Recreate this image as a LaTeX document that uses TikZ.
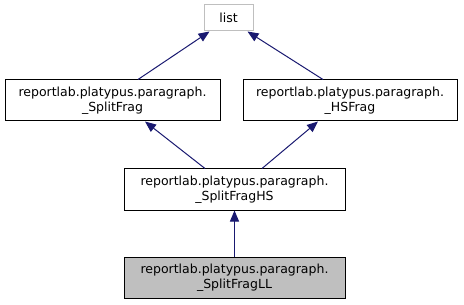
\documentclass[tikz,border=0pt]{standalone}
\usepackage{fontspec}
\setmainfont{DejaVu Sans}
\usetikzlibrary{arrows.meta}
\definecolor{edgeblue}{HTML}{191970}
\definecolor{nodegray}{HTML}{BFBFBF}
\tikzset{
  label font/.style={font=\fontsize{12.5pt}{15pt}\selectfont},
  cls/.style={draw=black, line width=1pt, fill=white, minimum width=#1, minimum height=41pt,
    align=center, inner sep=0pt, label font},
  cls/.default=215pt,
  inherit/.style={draw=edgeblue, line width=1pt, {Triangle[length=11pt,width=9pt]}-}
}
\begin{document}
\begin{tikzpicture}[x=1pt,y=-1pt]
  \useasboundingbox (0,0) rectangle (464,305);
  % base class
  \node[draw=black!25, line width=1pt, fill=white, minimum width=49pt, minimum height=26pt,
    inner sep=0pt, label font] (list) at (228.5,18) {list};
  % class hierarchy
  \node[cls=215pt] (sf) at (112.5,100.5) {reportlab.platypus.paragraph.\\\_SplitFrag};
  \node[cls=214pt] (hs) at (350,100.5) {reportlab.platypus.paragraph.\\\_HSFrag};
  \node[cls=221pt] (sfhs) at (234.5,189.5) {reportlab.platypus.paragraph.\\\_SplitFragHS};
  \node[cls=221pt, fill=nodegray] (sfll) at (234.5,278) {reportlab.platypus.paragraph.\\\_SplitFragLL};
  % inheritance edges
  \draw[inherit] (list.south west) ++(6,0) coordinate (la) -- (sf.north -| 138,0);
  \draw[inherit] (list.south east) ++(-6,0) coordinate (lb) -- (hs.north -| 323,0);
  \draw[inherit] (sf.south -| 145,0) -- (sfhs.north -| 205,0);
  \draw[inherit] (hs.south -| 318,0) -- (sfhs.north -| 262,0);
  \draw[inherit] (sfhs) -- (sfll);
\end{tikzpicture}
\end{document}
